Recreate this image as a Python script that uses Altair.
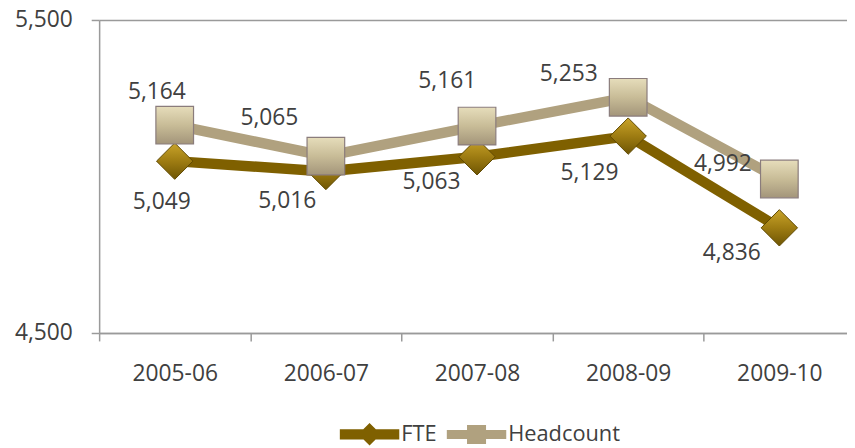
import altair as alt
import pandas as pd

years = ["2005-06", "2006-07", "2007-08", "2008-09", "2009-10"]
fte = [5049, 5016, 5063, 5129, 4836]
headcount = [5164, 5065, 5161, 5253, 4992]
series_names = ["FTE", "Headcount"]
y_ticks = [4500, 5500]

# label offsets (pixels) relative to each marker
fte_dx = [-13, -39, -46, -39, -48]
fte_dy = [41, 30, 26, 37, 25]
hc_dx = [-18, -57, -30, -60, -57]
hc_dy = [-33, -38, -45, -23, -15]

FTE_LINE = "#7F6000"
HC_LINE = "#B0A17F"
TXT = "#404040"
AX = "#9A9A9A"
FONT = "Open Sans"

df = pd.DataFrame({
    "year": years * 2,
    "series": ["FTE"] * 5 + ["Headcount"] * 5,
    "value": fte + headcount,
})

W_RANGE = 763
x_enc = alt.X(
    "year:N", sort=years, bandPosition=0.5,
    scale=alt.Scale(type="band", domain=years, range=[0, W_RANGE], paddingInner=0, paddingOuter=0),
    axis=alt.Axis(title=None, tickBand="extent", tickSize=8, tickColor=AX, tickWidth=1.5,
                  domainColor=AX, domainWidth=1.5, labelFont=FONT, labelFontSize=23,
                  labelColor=TXT, labelPadding=22, labelAngle=0, grid=False),
)
y_enc = alt.Y(
    "value:Q",
    scale=alt.Scale(domain=[4500, 5500], nice=False, zero=False),
    axis=alt.Axis(title=None, values=y_ticks, format=",.0f", tickSize=8, tickColor=AX, tickWidth=1.5,
                  domainColor=AX, domainWidth=1.5, grid=True, gridColor=AX, gridWidth=1.5,
                  labelFont=FONT, labelFontSize=23, labelColor=TXT, labelPadding=19),
)

base = alt.Chart(df)
fte_base = base.transform_filter(alt.datum.series == "FTE")
hc_base = base.transform_filter(alt.datum.series == "Headcount")

hc_line = hc_base.mark_line(stroke=HC_LINE, strokeWidth=10.5, strokeJoin="round").encode(x=x_enc, y=y_enc)
fte_line = fte_base.mark_line(stroke=FTE_LINE, strokeWidth=10.5, strokeJoin="round").encode(x=x_enc, y=y_enc)

diamond_fill = alt.Gradient(
    gradient="linear", x1=0, x2=0, y1=0, y2=1,
    stops=[alt.GradientStop(color="#C9A42A", offset=0),
           alt.GradientStop(color="#9E7C12", offset=0.5),
           alt.GradientStop(color="#6E5503", offset=1)],
)
square_fill = alt.Gradient(
    gradient="linear", x1=0, x2=0, y1=0, y2=1,
    stops=[alt.GradientStop(color="#E6DDBB", offset=0),
           alt.GradientStop(color="#C8BC97", offset=0.5),
           alt.GradientStop(color="#A3957A", offset=1)],
)

fte_pts = fte_base.mark_point(shape="diamond", size=1350, filled=True, opacity=1,
                              fill=diamond_fill, stroke="#5E4800", strokeWidth=1).encode(x=x_enc, y=y_enc)
hc_pts = hc_base.mark_point(shape="square", size=1444, filled=True, opacity=1,
                            fill=square_fill, stroke="#8A7C7C", strokeWidth=1.2).encode(x=x_enc, y=y_enc)

labels = []
for i, yr in enumerate(years):
    labels.append(
        fte_base.transform_filter(alt.datum.year == yr)
        .mark_text(dx=fte_dx[i], dy=fte_dy[i], font=FONT, fontSize=23, color=TXT)
        .encode(x=x_enc, y=y_enc, text=alt.Text("value:Q", format=","))
    )
    labels.append(
        hc_base.transform_filter(alt.datum.year == yr)
        .mark_text(dx=hc_dx[i], dy=hc_dy[i], font=FONT, fontSize=23, color=TXT)
        .encode(x=x_enc, y=y_enc, text=alt.Text("value:Q", format=","))
    )

# legend symbols: thick line with marker
FTE_SYM = "M-1,-0.17 L1,-0.17 L1,0.17 L-1,0.17 Z M0,-0.38 L0.38,0 L0,0.38 L-0.38,0 Z"
HC_SYM = "M-1,-0.15 L1,-0.15 L1,0.15 L-1,0.15 Z M-0.32,-0.32 L0.32,-0.32 L0.32,0.32 L-0.32,0.32 Z"

legend_cfg = dict(title=None, orient="none", legendX=243, legendY=388,
                  direction="horizontal", symbolSize=3600, labelFont=FONT,
                  labelFontSize=22, labelColor=TXT, labelOffset=2,
                  columnPadding=10, symbolStrokeWidth=0, symbolOpacity=1, padding=0)

legend_layer = base.transform_filter("false").mark_point(filled=True, opacity=1).encode(
    x=x_enc, y=y_enc,
    color=alt.Color("series:N", scale=alt.Scale(domain=series_names, range=[FTE_LINE, HC_LINE]),
                    legend=alt.Legend(**legend_cfg)),
    shape=alt.Shape("series:N", scale=alt.Scale(domain=series_names, range=[FTE_SYM, HC_SYM]),
                    legend=alt.Legend(**legend_cfg)),
)

chart = alt.layer(hc_line, fte_line, fte_pts, hc_pts, *labels, legend_layer).properties(
    width=755, height=316,
    autosize=alt.AutoSizeParams(type="none"),
    padding={"left": 92, "top": 10, "right": 0, "bottom": 114},
).configure_view(stroke=None).configure(background="white")

chart.save("out.html", embed_options={"renderer": "svg", "actions": False})
